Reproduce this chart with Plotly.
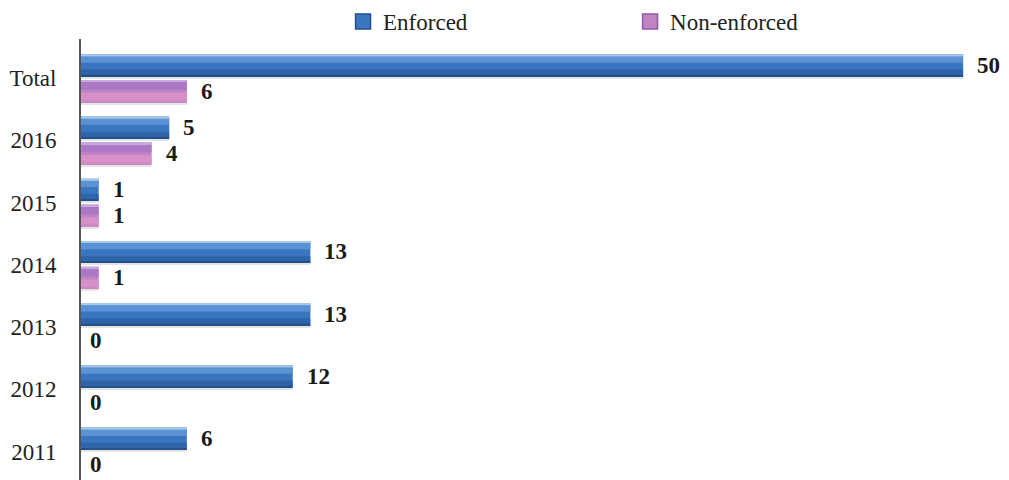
import plotly.graph_objects as go

# Category labels (bottom to top) and counts per series
categories = ["2011", "2012", "2013", "2014", "2015", "2016", "Total"]
enforced = [6, 12, 13, 13, 1, 5, 50]
non_enforced = [0, 0, 0, 1, 1, 4, 6]

FONT = "Liberation Serif, DejaVu Serif, serif"

# colour bands (bottom fraction, height fraction, colour) for a glossy look
BLUE_BASE = "#3A75BF"
BLUE_BANDS = [(0.0, 0.09, "#25518B"), (0.09, 0.22, "#2E65AA"),
              (0.62, 0.28, "#5A92D3"), (0.90, 0.10, "#A6C8EC")]
PURPLE_BASE = "#C283C5"
PURPLE_BANDS = [(0.0, 0.09, "#C98ABF"), (0.09, 0.33, "#D790C8"),
                (0.55, 0.37, "#AA78C4"), (0.92, 0.08, "#C9A8DC")]

# bar geometry in category units (offset from category centre, thickness)
E_OFF, N_OFF, THICK = 0.03, -0.385, 0.355
SHADOW = 0.03

fig = go.Figure()


def glossy_bar(values, base_off, name, base, bands, edge):
    # soft shadow under the bar
    fig.add_trace(go.Bar(
        y=categories, x=values, orientation="h", offset=base_off - SHADOW, width=SHADOW,
        marker=dict(color="#E4E4E4", line=dict(width=0)), showlegend=False, hoverinfo="skip"))
    # main body
    fig.add_trace(go.Bar(
        y=categories, x=values, orientation="h", name=name, showlegend=False,
        offset=base_off, width=THICK, marker=dict(color=base, line=dict(width=0)),
        hoverinfo="x+y"))
    for lo, h, col in bands:
        fig.add_trace(go.Bar(
            y=categories, x=values, orientation="h", offset=base_off + THICK * lo,
            width=THICK * h, marker=dict(color=col, line=dict(width=0)),
            showlegend=False, hoverinfo="skip"))
    # legend key: a square swatch
    fig.add_trace(go.Scatter(
        x=[None], y=[None], mode="markers", name=name,
        marker=dict(symbol="square", size=15, color=base, line=dict(color=edge, width=1.5))))


glossy_bar(enforced, E_OFF, "Enforced", BLUE_BASE, BLUE_BANDS, "#24508A")
glossy_bar(non_enforced, N_OFF, "Non-enforced", PURPLE_BASE, PURPLE_BANDS, "#8E5AA6")

# value labels just past the end of each bar (y given as category index)
annotations = []
for i, v in enumerate(enforced):
    annotations.append(dict(x=v, y=i, text=f"<b>{v}</b>", showarrow=False,
                            xanchor="left", yanchor="middle", xshift=12, yshift=13,
                            font=dict(family=FONT, size=23, color="#1a1a1a")))
for i, v in enumerate(non_enforced):
    annotations.append(dict(x=v, y=i, text=f"<b>{v}</b>", showarrow=False,
                            xanchor="left", yanchor="middle",
                            xshift=12 if v else 7, yshift=-13,
                            font=dict(family=FONT, size=23, color="#1a1a1a")))

fig.update_layout(
    width=1009, height=480,
    margin=dict(l=81, r=0, t=39, b=0, autoexpand=False),
    paper_bgcolor="white", plot_bgcolor="white",
    barmode="overlay",
    font=dict(family=FONT, size=22, color="#222"),
    annotations=annotations,
    showlegend=True,
    legend=dict(orientation="h", xref="container", yref="container",
                x=0.340, y=1.0, xanchor="left", yanchor="top",
                entrywidth=242, entrywidthmode="pixels",
                font=dict(family=FONT, size=23, color="#222"),
                bgcolor="rgba(0,0,0,0)"),
    xaxis=dict(range=[0, 52.6], visible=False, fixedrange=True),
    yaxis=dict(type="category", categoryorder="array", categoryarray=categories,
               range=[-0.458, 6.63], showline=True, linecolor="#555", linewidth=2,
               showgrid=False, zeroline=False, ticks="", ticklabelstandoff=18,
               automargin=False,
               tickfont=dict(family=FONT, size=23, color="#222")),
)

fig.write_html("out.html")
